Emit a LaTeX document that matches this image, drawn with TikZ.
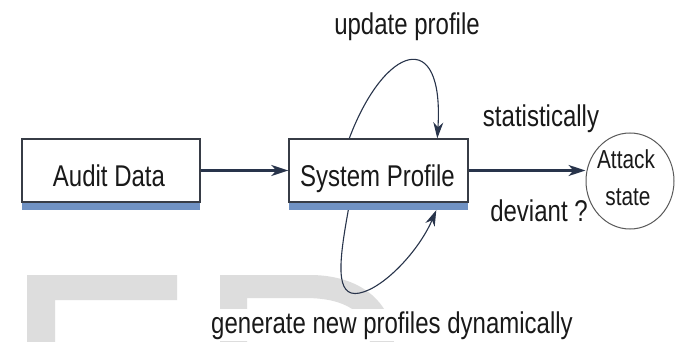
\documentclass[tikz,border=0pt]{standalone}
\usepackage{fontspec}
\setmainfont[FakeStretch=0.8]{Liberation Sans}
\usetikzlibrary{arrows.meta,shapes.geometric,calc}
\definecolor{barblue}{RGB}{112,146,196}
\definecolor{linecol}{RGB}{40,52,75}
\definecolor{boxline}{RGB}{55,60,70}
\definecolor{wm}{RGB}{221,221,221}
\definecolor{txt}{RGB}{25,25,25}
\begin{document}
\begin{tikzpicture}[x=1pt,y=-1pt,
 box/.style={draw=boxline,line width=1.4pt,fill=white,minimum width=178pt,minimum height=63pt,inner sep=0pt},
 bar/.style={fill=barblue,minimum width=178pt,minimum height=7pt,inner sep=0pt,anchor=north west},
 lbl/.style={text=txt,font=\fontsize{30}{34}\selectfont,inner sep=0pt,anchor=base},
 smlbl/.style={lbl,font=\fontsize{26}{30}\selectfont},
 arr/.style={draw=linecol,line width=2.2pt,-{Stealth[length=17pt,width=11pt,inset=5pt]}},
 looparr/.style={draw=linecol,line width=1.1pt,-{Stealth[length=16pt,width=10pt,inset=5pt]}}]
\fill[white] (0,0) rectangle (683,342);
\useasboundingbox (0,0) rectangle (683,342);
% watermark shapes
\fill[wm] (27,275) -- (177,275) -- (177,300) -- (55,300) -- (55,342) -- (27,342) -- cycle;
\fill[wm,even odd rule] (220,342) -- (220,275) -- (310,275) .. controls (358,275) and (392,300) .. (394,342) -- cycle
  (247,342) -- (247,298) -- (305,298) .. controls (345,298) and (368,312) .. (370,342) -- cycle;
% boxes
\node[box] (ad) at (111,170.5) {};
\node[bar] (adbar) at (ad.south west) {};
\node[box,minimum width=179pt] (sp) at (378.5,170.5) {};
\node[bar,minimum width=179pt] (spbar) at (sp.south west) {};
\node[draw=gray!70!black,line width=1pt,ellipse,minimum width=88pt,minimum height=96pt,inner sep=0pt] (att) at (630,181) {};
% texts
\node[lbl] (adt) at (109,186) {Audit Data};
\node[lbl] (spt) at (377.5,186) {System Profile};
\node[lbl] (upd) at (407,35) {update profile};
\node[lbl] (stat) at (541,127) {statistically};
\node[lbl] (dev) at (539,222) {deviant ?};
\node[lbl,fill=white,inner sep=2pt] (gen) at (392,333) {generate new profiles dynamically};
\node[smlbl] (att1) at (626,168) {Attack};
\node[smlbl] (att2) at (628,205) {state};
% connectors
\draw[arr] (ad.east) -- (sp.west);
\draw[arr] (sp.east) -- (sp.east -| att.west);
\coordinate (t1) at ($(sp.north west)+(61,0)$);
\coordinate (t2) at ($(sp.north west)+(149,0)$);
\draw[looparr] (t1) .. controls ($(sp.north west)+(96,-93)$) and ($(sp.north west)+(156,-113)$) .. (t2);
\coordinate (b1) at ($(spbar.south west)+(60,0)$);
\coordinate (bm) at ($(spbar.south west)+(71,83)$);
\coordinate (b2) at ($(spbar.south west)+(148,0)$);
\draw[looparr] (b1) .. controls ($(spbar.south west)+(51,50)$) and ($(spbar.south west)+(46,88)$) .. (bm)
  .. controls ($(spbar.south west)+(96,78)$) and ($(spbar.south west)+(131,40)$) .. (b2);
\end{tikzpicture}
\end{document}
